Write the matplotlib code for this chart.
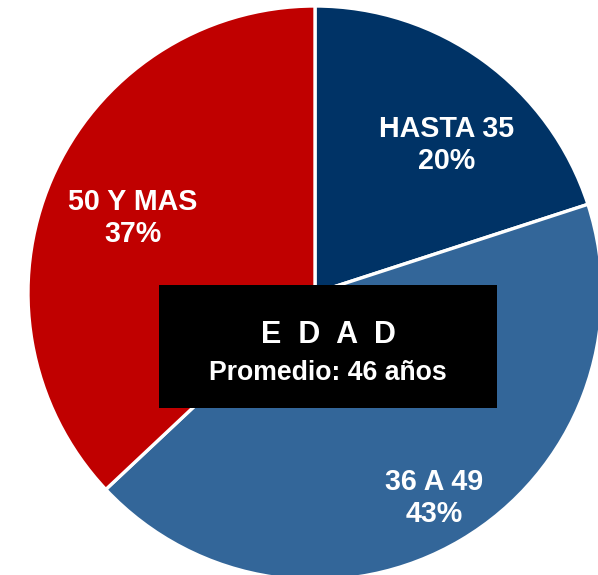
import matplotlib
matplotlib.use("Agg")
import matplotlib.pyplot as plt
from matplotlib.patches import Rectangle

categories = ["HASTA 35", "36 A 49", "50 Y MAS"]
values = [20, 43, 37]
colors = ["#003366", "#336699", "#C00000"]
title = "E  D  A  D"
subtitle = "Promedio: 46 años"

W, H = 598, 575
fig = plt.figure(figsize=(W / 100, H / 100), dpi=100)
ax = fig.add_axes([0, 0, 1, 1])

cx, cy, r = 315, H - 293, 287
ax.pie(values, colors=colors, startangle=90, counterclock=False,
       center=(cx, cy), radius=r, frame=True,
       wedgeprops=dict(edgecolor="white", linewidth=2.4))
ax.set_xlim(0, W)
ax.set_ylim(0, H)
ax.axis("off")

font = dict(family=["Liberation Sans", "DejaVu Sans"], fontweight="bold", color="white")
label_pos = [(447, 145), (434, 498), (133, 218)]
for cat, v, (x, y) in zip(categories, values, label_pos):
    ax.text(x, H - y, f"{cat}\n{v}%", ha="center", va="center", fontsize=20.6,
            linespacing=1.2, **font)

ax.add_patch(Rectangle((159, H - 408), 338, 123, facecolor="black", edgecolor="none", zorder=5))
ax.text(328, H - 335, title, ha="center", va="center", fontsize=22, zorder=6, **font)
ax.text(328, H - 373, subtitle, ha="center", va="center", fontsize=19.2, zorder=6, **font)

fig.savefig("out.png", dpi=100)
